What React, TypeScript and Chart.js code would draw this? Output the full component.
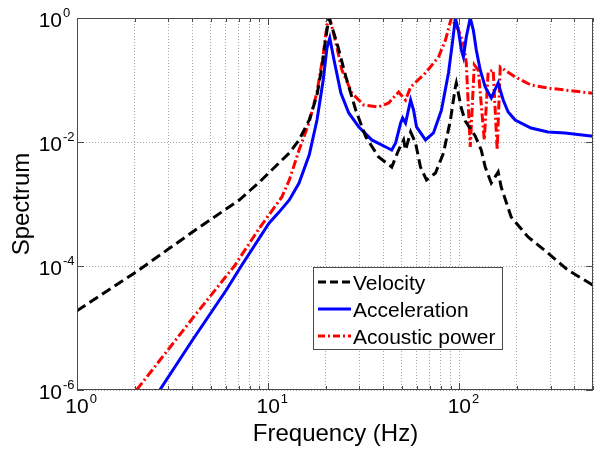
import React, { useEffect, useRef } from "react";
import { Chart, registerables } from "chart.js";

Chart.register(...registerables);

// ---- Data (frequency in Hz, spectrum value) ----
const velFreq = [1, 2.0, 4.0, 7.06, 9.0, 11.4, 12.9, 14.5, 16.4, 18.0, 19.1, 20.0, 20.8, 22.9, 25.5, 28.7, 32.4, 37.8, 44.3, 48.1, 51.1, 52.3, 55.6, 59.0, 62.6, 67.3, 75.0, 82.6, 89.8, 95.3, 96.4, 102.4, 107.4, 121, 130.2, 136.5, 146.8, 159.6, 165.5, 186.6, 228.7, 290.8, 369.6, 500];
const velValue = [1.9e-5, 7.7e-5, 3.5e-4, 1.16e-3, 2.26e-3, 4.6e-3, 6.65e-3, 0.0108, 0.0226, 0.0573, 0.162, 0.475, 1.0, 0.395, 0.112, 0.0328, 0.0121, 5.73e-3, 3.95e-3, 7.43e-3, 0.0108, 7.43e-3, 0.0145, 9.64e-3, 3.95e-3, 2.44e-3, 3.16e-3, 6.65e-3, 0.0226, 0.077, 0.0895, 0.035, 0.0218, 0.0125, 7.4e-3, 3.95e-3, 2.18e-3, 3.28e-3, 1.88e-3, 6.17e-4, 2.94e-4, 1.62e-4, 8.6e-5, 4.9e-5];

const accFreq = [2.71, 4.02, 6.04, 7.23, 10.1, 11.4, 12.9, 14.5, 16.4, 18.0, 19.4, 20.3, 21.0, 22.1, 24.0, 26.4, 29.8, 34.8, 41.2, 44.3, 46.4, 49.3, 50.5, 52.3, 55.6, 57.6, 59.7, 66.5, 73.2, 80.6, 87.7, 92.0, 95.3, 98.8, 102.4, 105, 108.7, 114, 118.3, 122.6, 128.6, 136.5, 146.8, 159.6, 169.5, 180, 195.8, 237, 290.8, 356.6, 500];
const accValue = [1e-6, 6.4e-6, 4.1e-5, 1e-4, 4.9e-4, 7.4e-4, 1.16e-3, 2.18e-3, 6.2e-3, 0.0226, 0.1, 0.33, 0.475, 0.21, 0.0617, 0.0294, 0.0175, 0.0108, 8.3e-3, 7.43e-3, 9.64e-3, 0.0202, 0.0244, 0.0202, 0.0475, 0.0328, 0.0175, 0.0108, 0.014, 0.0328, 0.13, 0.4, 1.0, 0.64, 0.305, 0.235, 0.494, 1.0, 0.64, 0.305, 0.145, 0.077, 0.0513, 0.0895, 0.0475, 0.0305, 0.0226, 0.0168, 0.0145, 0.014, 0.0124];

const powFreq = [2.05, 4.0, 6.04, 6.66, 9.0, 11.8, 12.9, 14.5, 16.4, 18.0, 19.4, 20.3, 21.0, 22.6, 24.3, 27.4, 31.6, 37.8, 42.7, 48.1, 52.3, 55.6, 66.5, 77.8, 84.6, 90.8, 98.8, 105, 108.7, 114, 119.7, 125.6, 135, 141.5, 150.3, 157.7, 163.6, 195.8, 237, 290.8, 500];
const powValue = [1e-6, 1.4e-5, 6.9e-5, 1e-4, 4.1e-4, 1.3e-3, 2.44e-3, 7.4e-3, 0.021, 0.064, 0.253, 0.77, 1.0, 0.395, 0.145, 0.0617, 0.0395, 0.0367, 0.0426, 0.064, 0.0475, 0.077, 0.13, 0.235, 0.44, 1.0, 0.64, 0.395, 0.188, 8.3e-3, 0.175, 0.145, 0.0108, 0.135, 0.145, 7.4e-3, 0.162, 0.112, 0.083, 0.0743, 0.061];

// ---- Axis ticks ----
const xGridTicks = [1, 2, 3, 4, 5, 6, 7, 8, 9, 10, 20, 30, 40, 50, 60, 70, 80, 90, 100, 200, 300, 400, 500];
const xLabelTicks = [1, 10, 100];
const xLabelExps = ["0", "1", "2"];
const yGridTicks = [1e-6, 1e-4, 1e-2, 1];
const yLabelExps = ["-6", "-4", "-2", "0"];

const seriesNames = ["Velocity", "Acceleration", "Acoustic power"];
const xTitle = "Frequency (Hz)";
const yTitle = "Spectrum";

const FONT = '"Liberation Sans", Arial, Helvetica, sans-serif';
const VEL_DASH = [10, 5];
const POW_DASH = [9, 3, 2, 3];

const toPoints = (xs: number[], ys: number[]) => xs.map((x, i) => ({ x, y: ys[i] }));

const overlay = {
  id: "overlay",
  afterDraw(chart: any) {
    const { ctx, chartArea: a, scales } = chart;
    const xs = scales.x;
    const ys = scales.y;
    ctx.save();
    // axes box
    ctx.strokeStyle = "#4a4a4a";
    ctx.lineWidth = 1;
    ctx.setLineDash([]);
    ctx.strokeRect(a.left + 0.5, a.top + 0.5, a.right - a.left - 1, a.bottom - a.top - 1);
    // tick marks (inside)
    ctx.beginPath();
    xGridTicks.forEach((v) => {
      const px = Math.round(xs.getPixelForValue(v)) + 0.5;
      const len = xLabelTicks.includes(v) ? 7 : 4;
      ctx.moveTo(px, a.bottom);
      ctx.lineTo(px, a.bottom - len);
      ctx.moveTo(px, a.top);
      ctx.lineTo(px, a.top + len);
    });
    yGridTicks.forEach((v) => {
      const py = Math.round(ys.getPixelForValue(v)) + 0.5;
      ctx.moveTo(a.left, py);
      ctx.lineTo(a.left + 7, py);
      ctx.moveTo(a.right, py);
      ctx.lineTo(a.right - 7, py);
    });
    ctx.stroke();

    ctx.fillStyle = "#000";
    // x tick labels
    xLabelTicks.forEach((v, i) => {
      const px = xs.getPixelForValue(v);
      ctx.font = `21px ${FONT}`;
      ctx.textAlign = "center";
      ctx.textBaseline = "alphabetic";
      const w = ctx.measureText("10").width;
      ctx.fillText("10", px, a.bottom + 23);
      ctx.font = `13px ${FONT}`;
      ctx.textAlign = "left";
      ctx.fillText(xLabelExps[i], px + w / 2 + 1, a.bottom + 13);
    });
    // y tick labels
    yGridTicks.forEach((v, i) => {
      const py = ys.getPixelForValue(v);
      ctx.font = `21px ${FONT}`;
      ctx.textAlign = "right";
      ctx.textBaseline = "alphabetic";
      ctx.fillText("10", a.left - 15, py + 9);
      ctx.font = `13px ${FONT}`;
      ctx.textAlign = "left";
      ctx.fillText(yLabelExps[i], a.left - 14, py - 1);
    });
    // axis titles
    ctx.font = `24px ${FONT}`;
    ctx.textAlign = "center";
    ctx.fillText(xTitle, (a.left + a.right) / 2 + 0.5, 441);
    ctx.save();
    ctx.translate(29, (a.top + a.bottom) / 2);
    ctx.rotate(-Math.PI / 2);
    ctx.fillText(yTitle, 0, 0);
    ctx.restore();

    // legend
    const lx = 313, ly = 267, lw = 189, lh = 82;
    ctx.fillStyle = "#fff";
    ctx.fillRect(lx, ly, lw, lh);
    ctx.strokeStyle = "#4a4a4a";
    ctx.lineWidth = 1;
    ctx.strokeRect(lx + 0.5, ly + 0.5, lw, lh);
    const rows = [282, 309, 336];
    const colors = ["#000000", "#0000ff", "#ff0000"];
    rows.forEach((ry, i) => {
      ctx.strokeStyle = colors[i];
      ctx.lineWidth = 3;
      ctx.setLineDash(i === 0 ? [8, 4] : i === 2 ? [7, 3, 2, 3] : []);
      ctx.beginPath();
      ctx.moveTo(318, ry);
      ctx.lineTo(351, ry);
      ctx.stroke();
      ctx.setLineDash([]);
      ctx.fillStyle = "#000";
      ctx.font = `21px ${FONT}`;
      ctx.textAlign = "left";
      ctx.fillText(seriesNames[i], 353, ry + 8);
    });
    ctx.restore();
  },
};

export default function App() {
  const ref = useRef<HTMLCanvasElement>(null);
  useEffect(() => {
    if (!ref.current) return;
    const chart = new Chart(ref.current, {
      type: "line",
      data: {
        datasets: [
          {
            label: seriesNames[0],
            data: toPoints(velFreq, velValue),
            borderColor: "#000000",
            borderWidth: 3,
            borderDash: VEL_DASH,
            pointRadius: 0,
            tension: 0,
            fill: false,
          },
          {
            label: seriesNames[1],
            data: toPoints(accFreq, accValue),
            borderColor: "#0000ff",
            borderWidth: 3,
            pointRadius: 0,
            tension: 0,
            fill: false,
          },
          {
            label: seriesNames[2],
            data: toPoints(powFreq, powValue),
            borderColor: "#ff0000",
            borderWidth: 3,
            borderDash: POW_DASH,
            pointRadius: 0,
            tension: 0,
            fill: false,
          },
        ],
      },
      options: {
        animation: false,
        responsive: false,
        events: [],
        layout: { padding: { left: 77, top: 18, right: 9, bottom: 63 } },
        plugins: { legend: { display: false }, tooltip: { enabled: false } },
        datasets: { line: { clip: 0 } } as any,
        scales: {
          x: {
            type: "logarithmic",
            min: 1,
            max: 500,
            afterBuildTicks: (s: any) => {
              s.ticks = xGridTicks.map((v) => ({ value: v }));
            },
            ticks: { display: false },
            grid: { color: "#a6a6a6", lineWidth: 1, drawTicks: false },
            border: { display: false, dash: [1, 2] },
          },
          y: {
            type: "logarithmic",
            min: 1e-6,
            max: 1,
            afterBuildTicks: (s: any) => {
              s.ticks = yGridTicks.map((v) => ({ value: v }));
            },
            ticks: { display: false },
            grid: { color: "#a6a6a6", lineWidth: 1, drawTicks: false },
            border: { display: false, dash: [1, 2] },
          },
        },
      },
      plugins: [overlay],
    });
    return () => chart.destroy();
  }, []);
  return (
    <div style={{ position: "fixed", left: 0, top: 0, width: 602, height: 453, background: "#fff" }}>
      <canvas ref={ref} width={602} height={453} style={{ display: "block" }} />
    </div>
  );
}
